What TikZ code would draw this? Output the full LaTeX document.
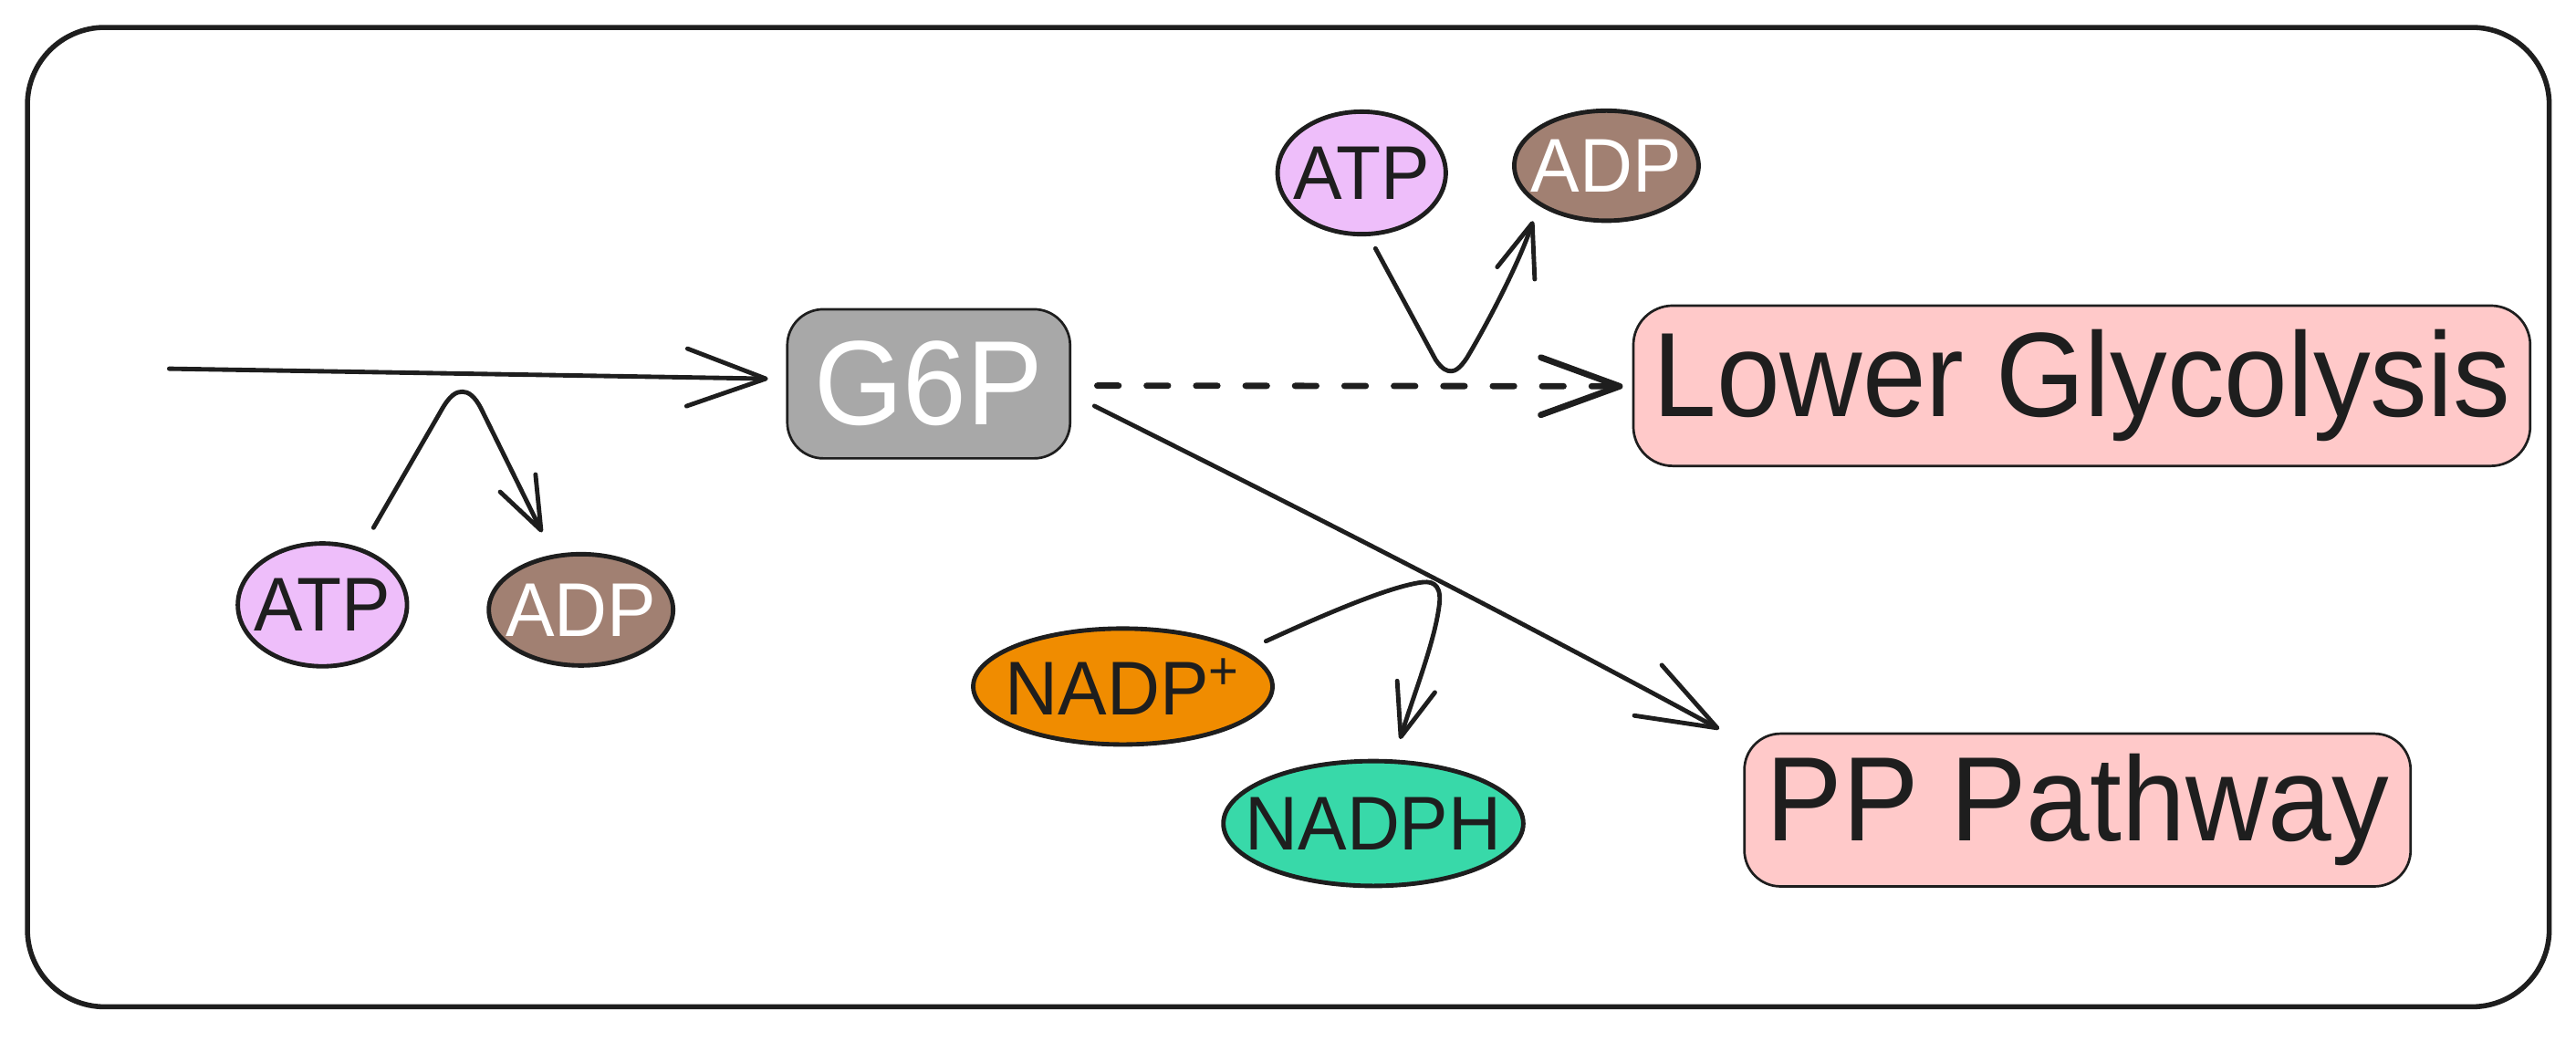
\documentclass[tikz,border=0pt]{standalone}
\usepackage{graphicx}
\usepackage{fontspec}
\setmainfont{Liberation Sans}
\usetikzlibrary{arrows.meta,shapes.geometric}
\definecolor{ink}{HTML}{1E1E1E}
\definecolor{atpfill}{HTML}{EEBEFA}
\definecolor{adpfill}{HTML}{A18072}
\definecolor{nadpfill}{HTML}{F08C00}
\definecolor{nadphfill}{HTML}{38D9A9}
\definecolor{gfill}{HTML}{A8A8A8}
\definecolor{pinkfill}{HTML}{FFC9C9}
\newcommand{\mollbl}[1]{\makebox[0pt]{\scalebox{1}[1.04]{#1}}}
\newcommand{\boxlbl}[1]{\scalebox{1}[1.05]{#1}}
\begin{document}
\begin{tikzpicture}[x=0.5pt,y=-0.5pt,
  mol/.style={ellipse, draw=ink, line width=1.35pt, inner sep=0pt, text=ink, font=\fontsize{22.3}{23}\selectfont},
  box/.style={rectangle, rounded corners=11pt, draw=ink, line width=0.75pt, fill=pinkfill, inner sep=0pt, text=ink, font=\fontsize{34.8}{35}\selectfont},
  conn/.style={draw=ink, line width=1.35pt, line cap=round, line join=round},
  bigtip/.style={-{Straight Barb[length=24pt,width=17.5pt,round]}},
  smalltip/.style={-{Straight Barb[length=16pt,width=12pt,round]}},
]
\useasboundingbox (0,0) rectangle (1568.3,634.4);
\draw[ink, line width=1.55pt, rounded corners=23.5pt] (16.7,16.7) rectangle (1552,613);

% boxes
\node[box, fill=gfill, text=white, minimum width=86.1pt, minimum height=45.4pt] (g6p) at (565.4,233.7) {\boxlbl{G6P}};
\node[box, rounded corners=12pt, minimum width=273pt, minimum height=48.8pt] (lower) at (1267.4,234.9) {\boxlbl{Lower Glycolysis}};
\node[box, minimum width=202.8pt, minimum height=46.5pt] (pp) at (1264.8,493.2) {\boxlbl{PP Pathway}};

% molecules
\node[mol, fill=atpfill, minimum width=51.5pt, minimum height=37.4pt] (atpA) at (196.3,368.3) {\mollbl{ATP}};
\node[mol, fill=adpfill, text=white, minimum width=56.1pt, minimum height=33.9pt] (adpA) at (353.7,371.3) {\mollbl{ADP}};
\node[mol, fill=atpfill, minimum width=51.2pt, minimum height=37.3pt] (atpB) at (829,105.3) {\mollbl{ATP}};
\node[mol, fill=adpfill, text=white, minimum width=56.1pt, minimum height=33.5pt] (adpB) at (978,100.9) {\mollbl{ADP}};
\node[mol, fill=nadpfill, minimum width=91.1pt, minimum height=35.3pt] (nadp) at (683.6,418) {\mollbl{NADP\textsuperscript{+}}};
\node[mol, fill=nadphfill, minimum width=91.3pt, minimum height=38pt] (nadph) at (836.1,501.4) {\mollbl{NADPH}};

% connector end points
\coordinate (inS) at (103,224.5);
\coordinate (inE) at (467.6,230.6);
\coordinate (dashS) at (668,234.8);
\coordinate (dashE) at (988,235.2);
\coordinate (diagS) at (666.3,247.2);
\coordinate (diagE) at (1046.7,443.9);
\coordinate (c1S) at (227.4,321.3);
\coordinate (c1E) at (330,324.1);
\coordinate (c2S) at (837.4,151.3);
\coordinate (c2E) at (933.3,134.6);
\coordinate (c3S) at (770.7,390.4);
\coordinate (c3E) at (852.4,450);

\draw[conn, bigtip] (inS) -- (inE);
\draw[conn, bigtip, line width=1.9pt, dash pattern=on 6.5pt off 8.55pt] (dashS) -- (dashE);
\draw[conn, bigtip] (diagS) .. controls (790,309) and (920,375) .. (diagE);

\draw[conn, smalltip] (c1S) -- (268,251) .. controls (274,240) and (278,238.5) .. (281.5,238.5) .. controls (285,238.5) and (289,241) .. (293,249) -- (c1E);
\draw[conn, smalltip] (c2S) -- (874,219) .. controls (878,225) and (881,226) .. (883.5,226) .. controls (886,226) and (889,224) .. (893,218) .. controls (905,198) and (925,160) .. (c2E);
\draw[conn, smalltip] (c3S) .. controls (800,377) and (845,357) .. (866,354.5) .. controls (874,353.5) and (878,358) .. (876,370) .. controls (873,392) and (860,425) .. (c3E);
\end{tikzpicture}
\end{document}
